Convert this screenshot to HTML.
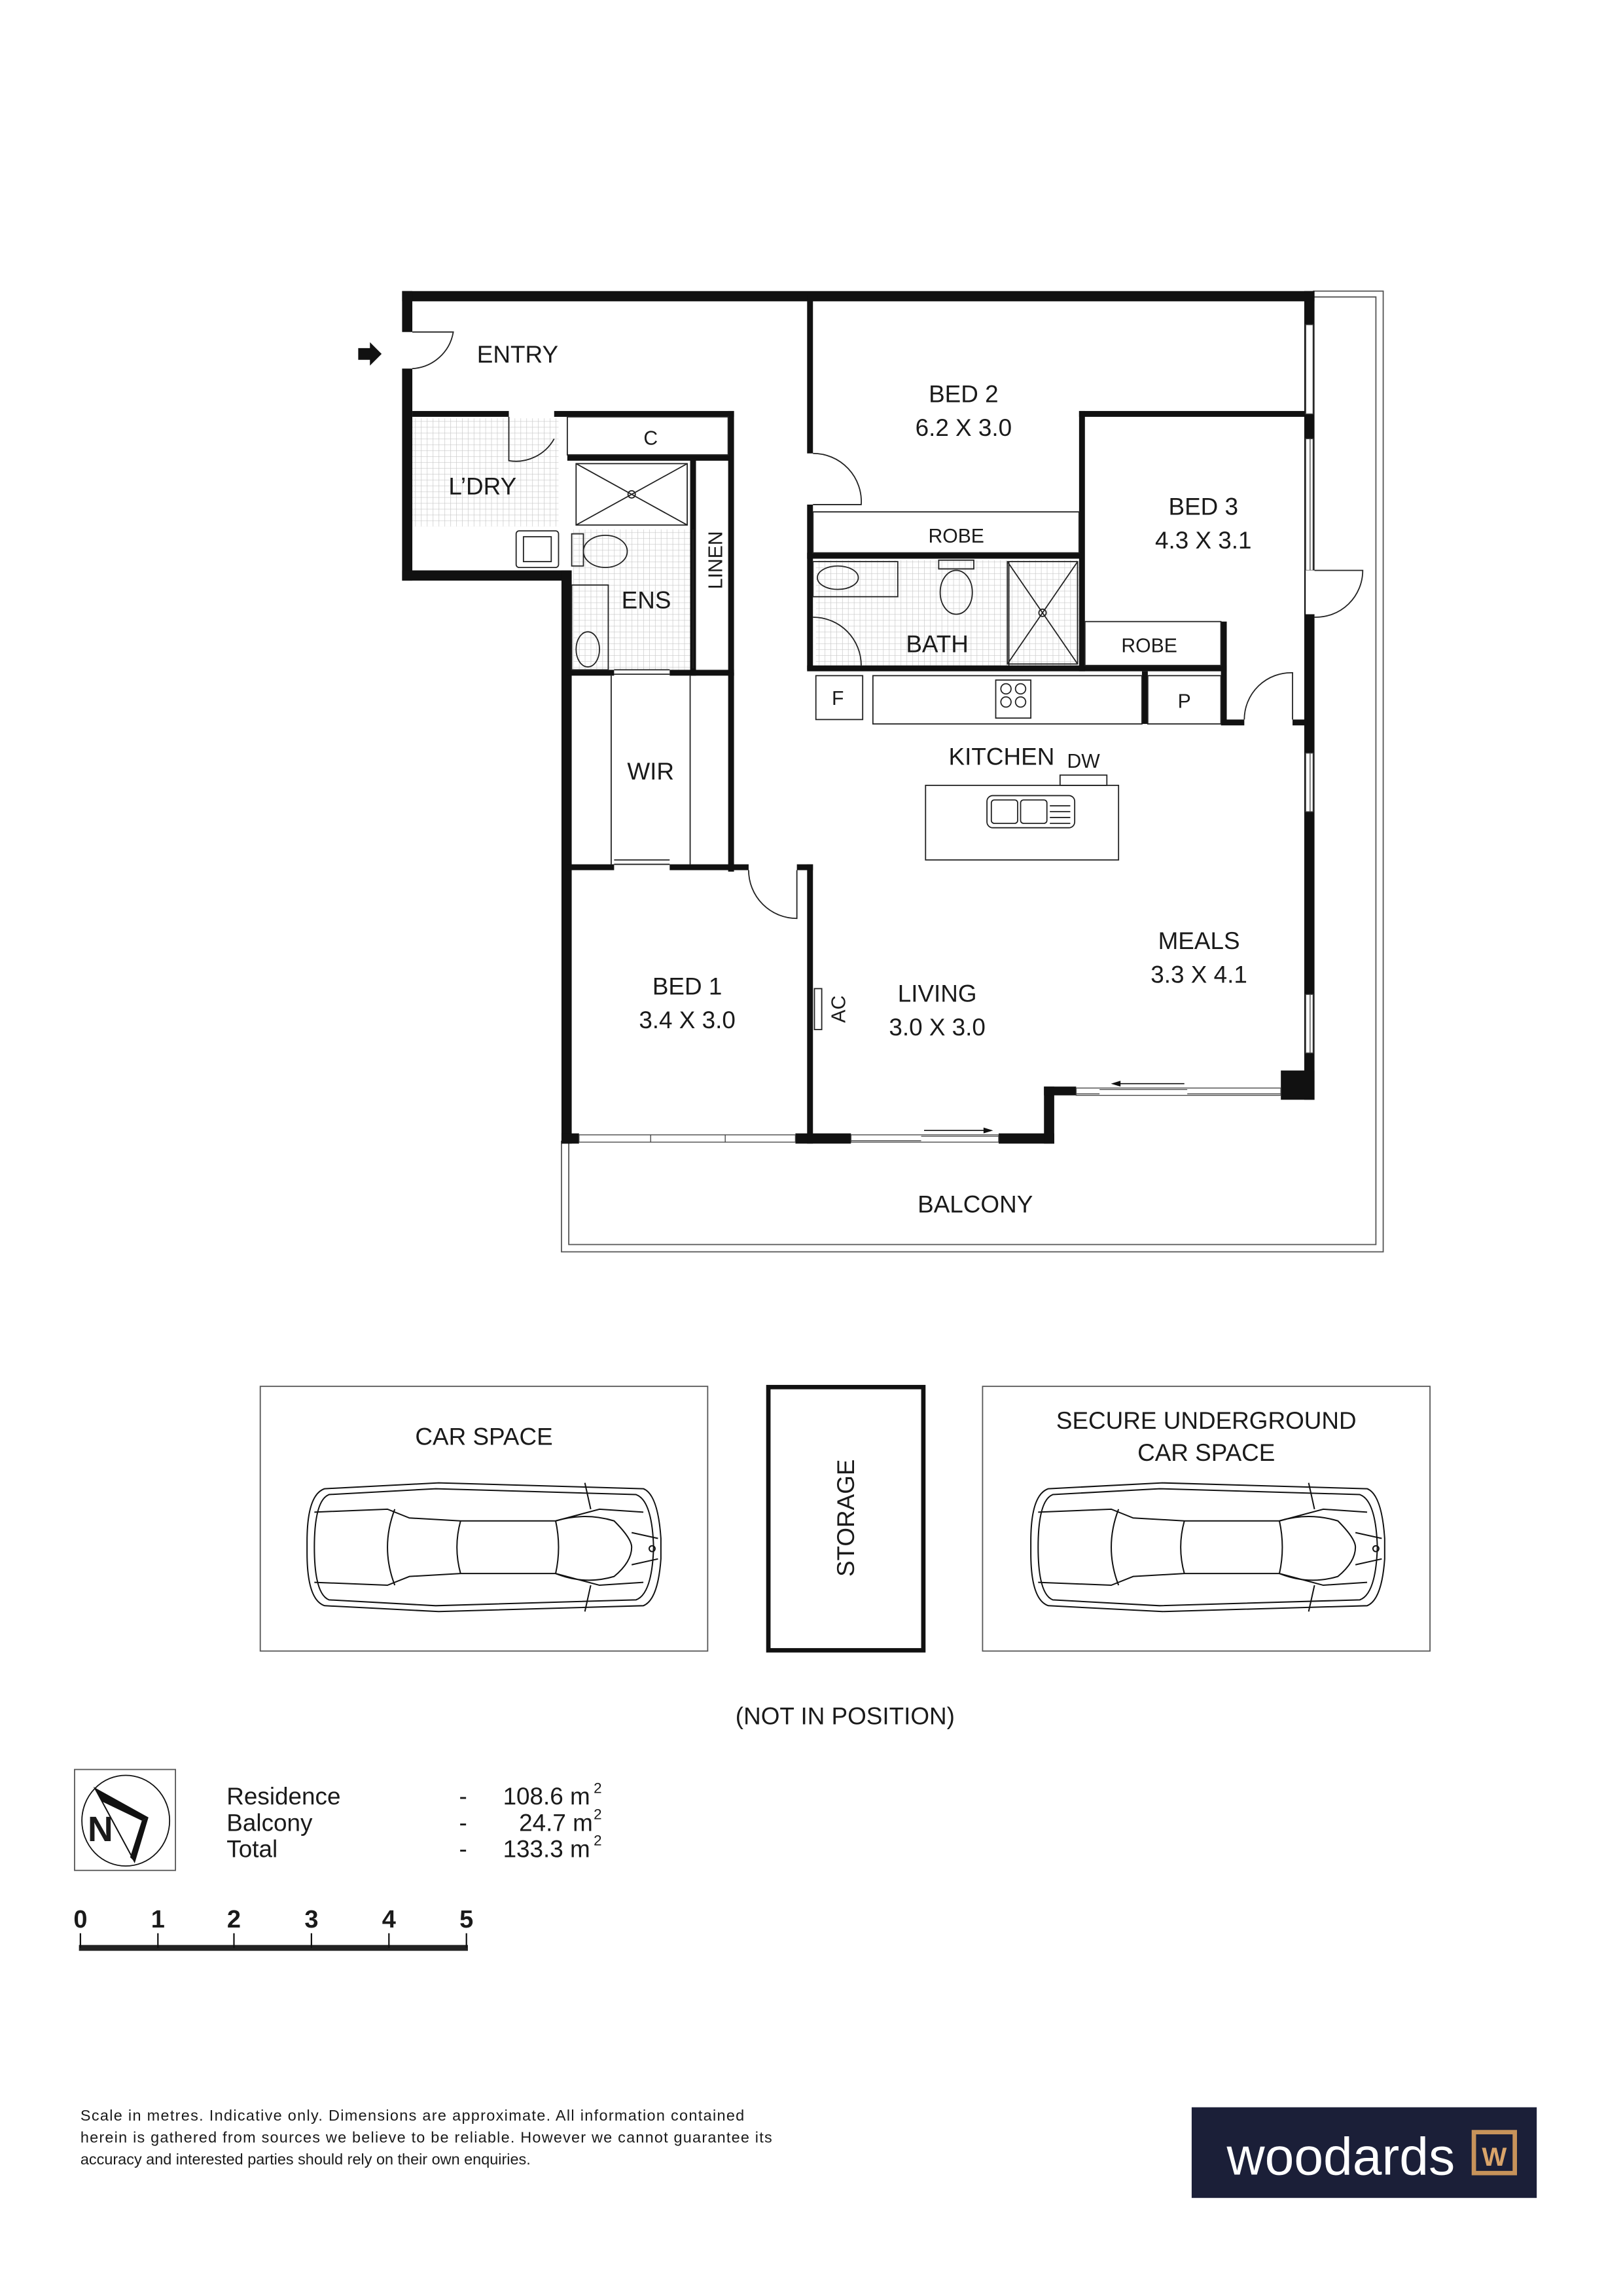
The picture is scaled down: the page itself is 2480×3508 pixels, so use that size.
<!DOCTYPE html>
<html><head><meta charset="utf-8"><style>
html,body{margin:0;padding:0;background:#fff;}
svg{display:block;}
text{font-family:"Liberation Sans",sans-serif;fill:#1a1a1a;}
</style></head><body>
<svg width="2480" height="3508" viewBox="0 0 1110 1570" xmlns="http://www.w3.org/2000/svg">
<defs>
<pattern id="tile" width="4" height="4" patternUnits="userSpaceOnUse">
<rect width="4" height="4" fill="#fff"/><path d="M0 0H4M0 0V4" stroke="#c8c8c8" stroke-width="0.6"/>
</pattern>
<g id="car" fill="none" stroke="#111" stroke-width="0.9">
<path d="M12 6L90 2L230 6Q240 10 242 40V54Q240 82 230 86L90 90L12 86Q0 82 0 50V42Q0 10 12 6Z"/>
<path d="M15 10L88 6L225 10Q236 14 237 46Q236 78 225 82L88 86L15 82Q5 78 5 46Q5 14 15 10Z"/>
<path d="M5 22L55 20L70 26L105 28L170 28L200 20L230 22"/>
<path d="M5 70L55 72L70 66L105 64L170 64L200 72L230 70"/>
<path d="M60 20Q50 46 60 72M105 28Q100 46 105 64M170 28Q174 46 170 64"/>
<path d="M170 28Q190 22 210 28Q222 40 222 46Q222 56 210 66Q190 72 170 64"/>
<path d="M222 36L240 40M222 58L240 54"/>
<circle cx="236" cy="47" r="2"/>
<path d="M190 2L194 20M190 90L194 72"/>
</g>
</defs>
<rect width="1110" height="1570" fill="#fff"/>

<!-- balcony outline -->
<g fill="none" stroke="#555" stroke-width="0.8">
<path d="M898 199H946V856H384V780"/>
<path d="M898 203H941V851H389V780"/>
</g>

<rect x="282" y="286" width="100" height="74" fill="url(#tile)"/>
<rect x="392" y="362" width="82" height="96" fill="url(#tile)"/>
<rect x="558" y="383" width="180" height="72" fill="url(#tile)"/>

<g fill="#111">
<rect x="275" y="199" width="624" height="7"/>
<rect x="275" y="199" width="7" height="28"/>
<rect x="275" y="252" width="7" height="145"/>
<rect x="275" y="390" width="115" height="7"/>
<rect x="282" y="281" width="66" height="4"/>
<rect x="379" y="281" width="123" height="4"/>
<rect x="384" y="390" width="7" height="392"/>
<rect x="384" y="775" width="12" height="7"/>
<rect x="544" y="775" width="38" height="7"/>
<rect x="683" y="775" width="38" height="7"/>
<rect x="714" y="743" width="7" height="39"/>
<rect x="714" y="743" width="22" height="6"/>
<rect x="876" y="732" width="23" height="20"/>
<rect x="892" y="199" width="7" height="553"/>
<rect x="552" y="202" width="4" height="108"/>
<rect x="552" y="345" width="4" height="113"/>
<rect x="552" y="455" width="287" height="4"/>
<rect x="738" y="281" width="155" height="4"/>
<rect x="738" y="281" width="4" height="178"/>
<rect x="835" y="425" width="4" height="70"/>
<rect x="835" y="492" width="16" height="4"/>
<rect x="884" y="492" width="10" height="4"/>
<rect x="781" y="459" width="4" height="36"/>
<rect x="552" y="378" width="188" height="4"/>
<rect x="498" y="281" width="4" height="181"/>
<rect x="472" y="313" width="4" height="149"/>
<rect x="388" y="311" width="112" height="4"/>
<rect x="388" y="458" width="32" height="4"/>
<rect x="458" y="458" width="44" height="4"/>
<rect x="498" y="460" width="4" height="136"/>
<rect x="388" y="591" width="32" height="4"/>
<rect x="458" y="591" width="54" height="4"/>
<rect x="545" y="591" width="11" height="4"/>
<rect x="552" y="591" width="4" height="191"/>
</g>
<g fill="#fff" stroke="#444" stroke-width="0.6">
<rect x="893" y="222" width="5" height="61"/>
<rect x="893" y="300" width="5" height="90"/>
<rect x="893" y="515" width="5" height="40"/>
<rect x="893" y="680" width="5" height="40"/>
<rect x="396" y="776" width="148" height="5"/>
<rect x="582" y="776" width="101" height="5"/>
<rect x="736" y="744" width="140" height="5"/>
</g>
<rect x="893" y="390" width="7" height="30" fill="#fff"/>
<g stroke="#444" stroke-width="0.6" fill="none">
<path d="M893 222V283M896 300V390M896 515V555M896 680V720"/>
<path d="M445 776V781M496 776V781"/>
<path d="M630 777H683M582 780H630"/>
<path d="M752 745H812M812 748H876M736 748H752"/>
</g>
<g stroke="#111" stroke-width="0.7" fill="#111">
<path d="M632 773H678" /><path d="M678 773l-5 -1.5v3z"/>
<path d="M766 741H810"/><path d="M761 741l5 -1.5v3z"/>
</g>

<g fill="none" stroke="#222" stroke-width="0.8">
<path d="M282 227H310A30 30 0 0 1 282 252"/>
<path d="M348 285V315A30 30 0 0 0 379 300"/>
<path d="M556 310A33 33 0 0 1 589 345H556"/>
<path d="M556 422A33 33 0 0 1 589 455"/>
<path d="M899 390H932A32 32 0 0 1 899 422"/>
<path d="M884 492V460A32 32 0 0 0 851 492"/>
<path d="M512 595A33 33 0 0 0 545 628V595"/>
</g>
<path d="M245 238h8v-4l8 8-8 8v-4h-8z" fill="#111"/>

<g fill="none" stroke="#222" stroke-width="0.8">
<rect x="388" y="285" width="110" height="26"/>
<rect x="394" y="317" width="76" height="42"/>
<path d="M394 317L470 359M470 317L394 359"/>
<circle cx="432" cy="338" r="2.5"/>
<rect x="353" y="363" width="29" height="25" rx="2"/>
<rect x="358" y="367" width="19" height="17"/>
<rect x="391" y="365" width="8" height="22"/>
<ellipse cx="414" cy="377" rx="15" ry="11"/>
<rect x="391" y="400" width="25" height="58"/>
<ellipse cx="402" cy="444" rx="8" ry="12"/>
<path d="M474 362V457M420 458H458M420 461H458"/>
<path d="M418 462V591M472 462V591M420 591H458M420 588H458"/>
<rect x="556" y="350" width="182" height="28"/>
<rect x="556" y="384" width="58" height="24"/>
<ellipse cx="573" cy="395" rx="14" ry="8"/>
<rect x="642" y="383" width="24" height="6"/>
<ellipse cx="654" cy="405" rx="11" ry="15"/>
<path d="M690 384V455"/>
<rect x="689" y="384" width="48" height="70"/>
<path d="M689 384L737 454M737 384L689 454"/>
<circle cx="713" cy="419" r="2.5"/>
<rect x="742" y="425" width="93" height="30"/>
<rect x="558" y="462" width="32" height="30"/>
<rect x="597" y="462" width="184" height="33"/>
<rect x="785" y="462" width="50" height="33"/>
<rect x="681" y="465" width="24" height="26"/>
<circle cx="688" cy="471" r="3.5"/><circle cx="698" cy="471" r="3.5"/>
<circle cx="688" cy="480" r="3.5"/><circle cx="698" cy="480" r="3.5"/>
<rect x="633" y="537" width="132" height="51"/>
<rect x="725" y="530" width="32" height="7"/>
<rect x="675" y="544" width="60" height="22" rx="4"/>
<rect x="678" y="547" width="18" height="16" rx="2"/>
<rect x="698" y="547" width="18" height="16" rx="2"/>
<path d="M718 551H732M718 555H732M718 559H732M718 563H732"/>
<rect x="557" y="676" width="5" height="28"/>
</g>

<g font-size="16.5" text-anchor="middle">
<text x="354" y="248">ENTRY</text>
<text x="330" y="338">L’DRY</text>
<text x="445" y="304" font-size="13.5">C</text>
<text x="442" y="416">ENS</text>
<text x="445" y="533">WIR</text>
<text x="659" y="275">BED 2</text>
<text x="659" y="298">6.2 X 3.0</text>
<text x="654" y="371" font-size="13.5">ROBE</text>
<text x="823" y="352">BED 3</text>
<text x="823" y="375">4.3 X 3.1</text>
<text x="786" y="446" font-size="13.5">ROBE</text>
<text x="641" y="446">BATH</text>
<text x="573" y="482" font-size="13.5">F</text>
<text x="810" y="484" font-size="13.5">P</text>
<text x="685" y="523">KITCHEN</text>
<text x="741" y="525" font-size="13.5">DW</text>
<text x="820" y="649">MEALS</text>
<text x="820" y="672">3.3 X 4.1</text>
<text x="641" y="685">LIVING</text>
<text x="641" y="708">3.0 X 3.0</text>
<text x="470" y="680">BED 1</text>
<text x="470" y="703">3.4 X 3.0</text>
<text x="667" y="829">BALCONY</text>
<text transform="translate(494,383) rotate(-90)" font-size="13.5">LINEN</text>
<text transform="translate(578,690) rotate(-90)" font-size="13.5">AC</text>
</g>

<g fill="none" stroke="#555" stroke-width="0.8">
<rect x="178" y="948" width="306" height="181"/>
<rect x="672" y="948" width="306" height="181"/>
</g>
<rect x="525.5" y="948.5" width="106" height="180" fill="none" stroke="#111" stroke-width="3"/>
<text x="331" y="988" font-size="16.5" text-anchor="middle">CAR SPACE</text>
<text x="825" y="977" font-size="16.5" text-anchor="middle">SECURE UNDERGROUND</text>
<text x="825" y="999" font-size="16.5" text-anchor="middle">CAR SPACE</text>
<text transform="translate(584,1038) rotate(-90)" font-size="16.5" text-anchor="middle">STORAGE</text>
<text x="578" y="1179" font-size="16.5" text-anchor="middle">(NOT IN POSITION)</text>

<use href="#car" transform="translate(210,1012)"/>
<use href="#car" transform="translate(705,1012)"/>

<rect x="51" y="1210" width="69" height="69" fill="none" stroke="#555" stroke-width="0.8"/>
<ellipse cx="86" cy="1245" rx="30" ry="31" fill="none" stroke="#111" stroke-width="0.8"/>
<path d="M65 1223L101 1243L92 1273Z" fill="none" stroke="#111" stroke-width="0.9"/>
<path d="M65 1223L101 1243L97 1245L70 1232Z" fill="#111"/>
<path d="M101 1243L92 1273L89 1270L97 1245Z" fill="#111"/>
<text x="60" y="1259" font-size="24" font-weight="bold">N</text>

<g font-size="16.5">
<text x="155" y="1234">Residence</text>
<text x="155" y="1252">Balcony</text>
<text x="155" y="1270">Total</text>
<text x="314" y="1234">-</text><text x="314" y="1252">-</text><text x="314" y="1270">-</text>
<text x="344" y="1234">108.6 m</text><text x="355" y="1252">24.7 m</text><text x="344" y="1270">133.3 m</text>
<text x="406" y="1226" font-size="10">2</text><text x="406" y="1244" font-size="10">2</text><text x="406" y="1262" font-size="10">2</text>
</g>

<g font-size="17" font-weight="bold" text-anchor="middle">
<text x="55" y="1318">0</text><text x="108" y="1318">1</text><text x="160" y="1318">2</text>
<text x="213" y="1318">3</text><text x="266" y="1318">4</text><text x="319" y="1318">5</text>
</g>
<rect x="54" y="1330" width="266" height="4" fill="#222"/>
<g stroke="#111" stroke-width="1"><path d="M55 1322V1332M108 1322V1332M160 1322V1332M213 1322V1332M266 1322V1332M319 1322V1332"/></g>

<g font-size="10.5" fill="#333">
<text x="55" y="1450" textLength="454">Scale in metres. Indicative only. Dimensions are approximate. All information contained</text>
<text x="55" y="1465" textLength="473">herein is gathered from sources we believe to be reliable. However we cannot guarantee its</text>
<text x="55" y="1480">accuracy and interested parties should rely on their own enquiries.</text>
</g>

<rect x="815" y="1441" width="236" height="62" fill="#1b1f38"/>
<text x="839" y="1487" font-size="36" style="fill:#fff">woodards</text>
<rect x="1008" y="1458" width="28" height="28" fill="none" stroke="#c8935a" stroke-width="3"/>
<text x="1022" y="1481" font-size="18" font-weight="bold" text-anchor="middle" style="fill:#d9a46a">W</text>
</svg>
</body></html>
